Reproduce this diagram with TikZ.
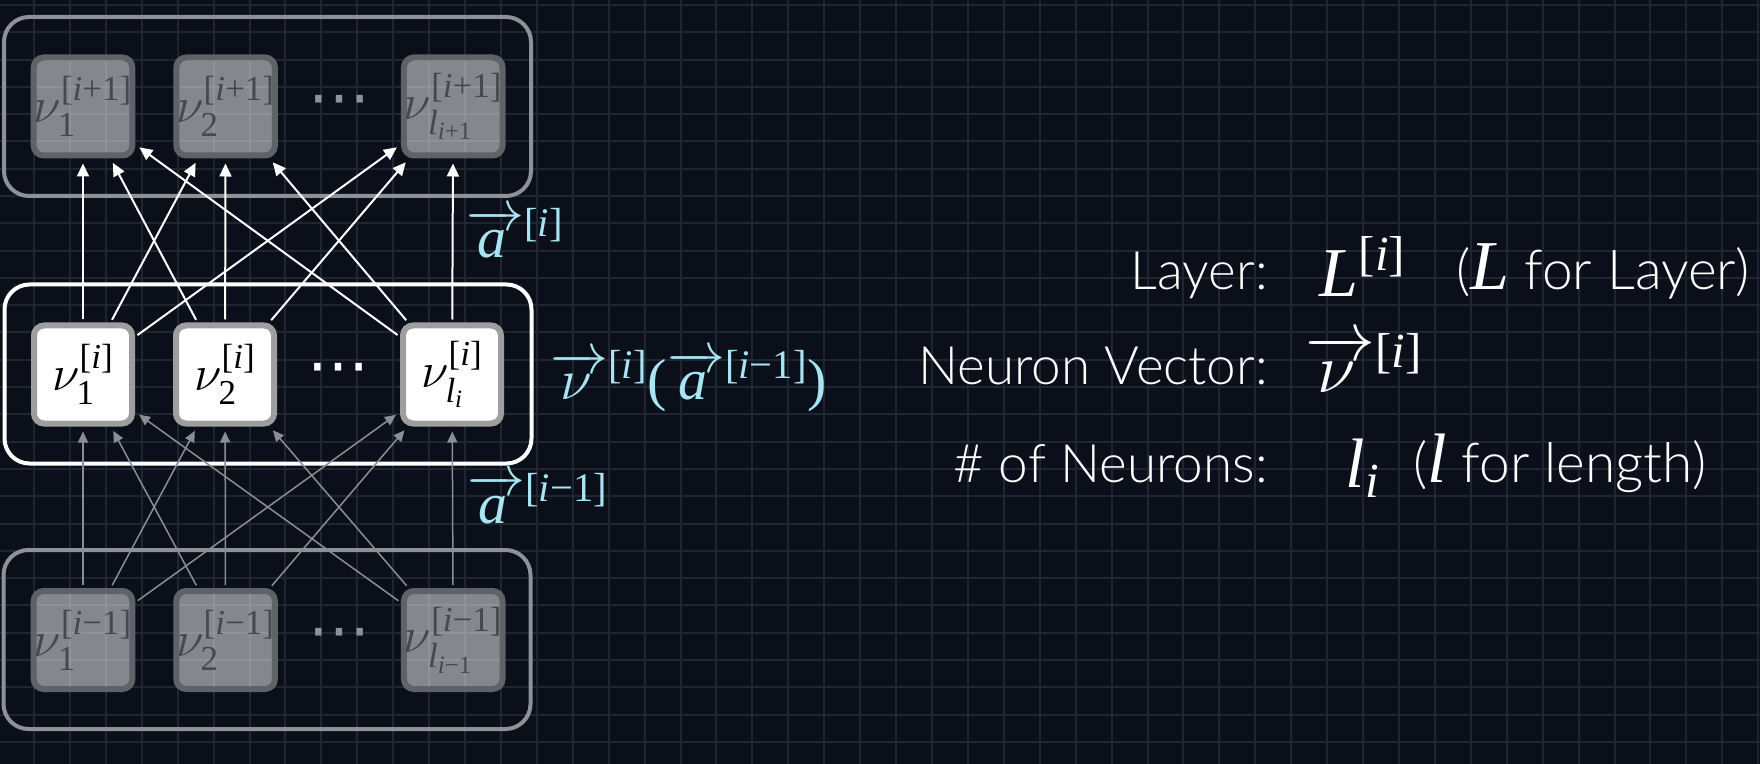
\RequirePackage{fix-cm}
\documentclass[tikz,border=0pt]{standalone}
\usepackage{amsmath}
\usepackage{fontspec}
\IfFontExistsTF{Lato Light}{\setmainfont{Lato Light}}{\setmainfont{Lato}}
\newfontfamily\timesface{Liberation Serif}
\newfontfamily\symface{DejaVu Sans}
\newcommand{\itv}[1]{\text{\timesface\itshape #1}}
\newcommand{\upv}[1]{\text{\timesface #1}}
\newcommand{\idx}[1]{\upv{[}#1\upv{]}}
\newcommand{\vecto}[1]{\overrightarrow{\mkern1mu#1\rule{0pt}{0.46em}\mkern3mu}}
\usetikzlibrary{arrows.meta,positioning,calc}
\definecolor{bgnavy}{HTML}{0A0F19}
\definecolor{gridblue}{HTML}{1E2731}
\definecolor{dimframe}{HTML}{8E9297}
\definecolor{dimedge}{HTML}{5F6368}
\definecolor{dimtext}{HTML}{45484D}
\definecolor{cellrim}{HTML}{9E9E9E}
\definecolor{vecblue}{HTML}{A8E4F2}
\definecolor{wiregray}{HTML}{8A8E93}
\tikzset{
  gridline/.style={draw=gridblue, line width=1pt},
  layerbox/.style={
    draw=dimframe,
    rectangle,
    rounded corners=12.5pt,
    minimum width=263.5pt,
    minimum height=89.5pt,
    line width=2pt,
    inner sep=0pt
  },
  cell/.style={
    draw=cellrim,
    fill=white,
    rectangle,
    rounded corners=5pt,
    minimum width=49pt,
    minimum height=49pt,
    inner sep=0pt,
    line width=3pt,
    font=\fontsize{25}{25}\selectfont
  },
  dimcell/.style={cell, draw=dimedge, fill opacity=0.5, text opacity=1, text=dimtext},
  dots/.style={font=\fontsize{31}{31}\selectfont\symface},
  upwire/.style={draw=white, line width=1pt, -{Triangle[length=6.5pt,width=6pt]},
    shorten >=2.5pt, shorten <=1.5pt},
  inwire/.style={draw=wiregray, line width=0.75pt, -{Triangle[length=5.5pt,width=5pt]},
    shorten >=2.5pt, shorten <=1.5pt},
  veclabel/.style={text=vecblue, font=\fontsize{29}{29}\selectfont, inner sep=0pt},
  keytext/.style={text=white, font=\fontsize{26.5}{26.5}\selectfont, inner sep=0pt},
  notetext/.style={text=white, font=\fontsize{27.5}{27.5}\selectfont, inner sep=0pt},
  keymath/.style={text=white, font=\fontsize{35}{35}\selectfont, inner sep=0pt}
}

\begin{document}
\begin{tikzpicture}[x=0.5pt, y=-0.5pt]
  \useasboundingbox (0,0) rectangle (1760,764);
  \fill[bgnavy] (0,0) rectangle (1760,764);
  \foreach \gx in {0,...,48}
    \draw[gridline] ({34+35.92*\gx},0) -- ({34+35.92*\gx},764);
  \foreach \gy in {0,...,27}
    \draw[gridline] (0,{5+27.29*\gy}) -- (1760,{5+27.29*\gy});

  % layers
  \node[layerbox] (nextlayer) at (267.5,106.5) {};
  \node[layerbox, draw=white] (thislayer) at (268,374) {};
  \node[layerbox] (prevlayer) at (267,639.5) {};

  \node[dimcell] (t1) at (83,106.5) {$\nu_{\upv{1}}^{\idx{\itv{i}\upv{+1}}}$};
  \node[dimcell, right=19pt of t1] (t2) {$\nu_{\upv{2}}^{\idx{\itv{i}\upv{+1}}}$};
  \node[dimcell, right=61.5pt of t2] (tl) {$\nu_{\itv{l}_{\itv{i}\upv{+1}}}^{\idx{\itv{i}\upv{+1}}}$};
  \node[dots, text=dimframe] (tdots) at ($(t2)!0.5!(tl)$) {⋯};

  \node[cell] (m1) at (83,374.5) {$\nu_{\upv{1}}^{\idx{\itv{i}}}$};
  \node[cell, right=19pt of m1] (m2) {$\nu_{\upv{2}}^{\idx{\itv{i}}}$};
  \node[cell, right=61.5pt of m2] (ml) {$\nu_{\itv{l}_{\itv{i}}}^{\idx{\itv{i}}}$};
  \node[dots, text=white] (mdots) at ($(m2)!0.5!(ml)$) {⋯};

  \node[dimcell] (b1) at (83,640) {$\nu_{\upv{1}}^{\idx{\itv{i}\upv{−1}}}$};
  \node[dimcell, right=19pt of b1] (b2) {$\nu_{\upv{2}}^{\idx{\itv{i}\upv{−1}}}$};
  \node[dimcell, right=61.5pt of b2] (bl) {$\nu_{\itv{l}_{\itv{i}\upv{−1}}}^{\idx{\itv{i}\upv{−1}}}$};
  \node[dots, text=dimframe] (bdots) at ($(b2)!0.5!(bl)$) {⋯};

  % weights
  \foreach \src in {m1,m2,ml}
    \foreach \dst in {t1,t2,tl}
      \draw[upwire] (\src) -- (\dst);
  \foreach \src in {b1,b2,bl}
    \foreach \dst in {m1,m2,ml}
      \draw[inwire] (\src) -- (\dst);

  \node[veclabel, anchor=base west] (aout) at (466,258)
    {$\vecto{\itv{a}}^{\idx{\itv{i}}}$};
  \node[veclabel, anchor=base west] (vfun) at (550,400)
    {$\vecto{\nu}^{\idx{\itv{i}}}\upv{(}\vecto{\itv{a}}^{\idx{\itv{i}\upv{−1}}}\upv{)}$};
  \node[veclabel, anchor=base west] (ain) at (467,523)
    {$\vecto{\itv{a}}^{\idx{\itv{i}\upv{−1}}}$};

  % key
  \node[keytext, anchor=base east] (klayer) at (1268,290) {Layer:};
  \node[keymath, anchor=base] (mlayer) at (1363,297) {$\itv{L}^{\idx{\itv{i}}}$};
  \node[notetext, anchor=base west] (nlayer) at (1456,290)
    {({\fontsize{35}{35}\selectfont\timesface\itshape L} for Layer)};
  \node[keytext, anchor=base east] (kvec) at (1268,385) {Neuron Vector:};
  \node[keymath, anchor=base] (mvec) at (1364,393) {$\vecto{\nu}^{\idx{\itv{i}}}$};
  \node[keytext, anchor=base east] (kcount) at (1268,482) {\# of Neurons:};
  \node[keymath, anchor=base] (mcount) at (1363,487) {$\itv{l}_{\itv{i}}$};
  \node[notetext, anchor=base west] (ncount) at (1413,482)
    {({\fontsize{35}{35}\selectfont\timesface\itshape l} for length)};
\end{tikzpicture}
\end{document}
